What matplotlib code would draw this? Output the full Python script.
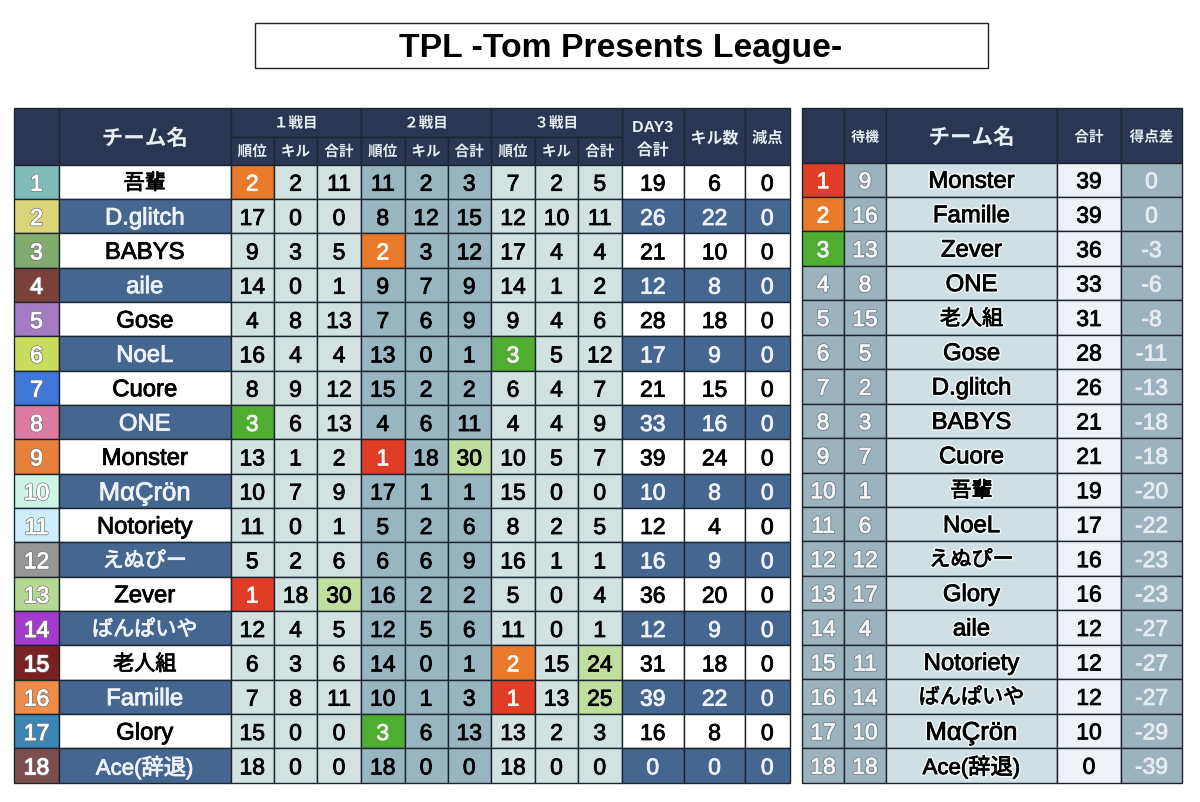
import matplotlib
matplotlib.use("Agg")
from matplotlib import pyplot as plt
from matplotlib.patches import Rectangle
import matplotlib.patheffects as pe

FONT = ["Liberation Sans", "Noto Sans CJK JP", "DejaVu Sans"]
plt.rcParams["font.family"] = FONT

# left table
teams = ["吾輩", "D.glitch", "BABYS", "aile", "Gose", "NoeL", "Cuore", "ONE", "Monster",
         "MαÇrön", "Notoriety", "えぬぴー", "Zever", "ばんぱいや", "老人組", "Famille", "Glory", "Ace(辞退)"]
team_colors = ["#7fbdb9", "#dcd479", "#82ab6e", "#7b4038", "#a67bc6", "#c9dc5c", "#3f78d8", "#dd7aa2",
               "#e6803a", "#ccf5e6", "#cdeefa", "#969696", "#b5d993", "#a63ad0", "#7b2020", "#f08c4a",
               "#3a86b4", "#7b4d4d"]
game1_rank = [2, 17, 9, 14, 4, 16, 8, 3, 13, 10, 11, 5, 1, 12, 6, 7, 15, 18]
game1_kill = [2, 0, 3, 0, 8, 4, 9, 6, 1, 7, 0, 2, 18, 4, 3, 8, 0, 0]
game1_total = [11, 0, 5, 1, 13, 4, 12, 13, 2, 9, 1, 6, 30, 5, 6, 11, 0, 0]
game2_rank = [11, 8, 2, 9, 7, 13, 15, 4, 1, 17, 5, 6, 16, 12, 14, 10, 3, 18]
game2_kill = [2, 12, 3, 7, 6, 0, 2, 6, 18, 1, 2, 6, 2, 5, 0, 1, 6, 0]
game2_total = [3, 15, 12, 9, 9, 1, 2, 11, 30, 1, 6, 9, 2, 6, 1, 3, 13, 0]
game3_rank = [7, 12, 17, 14, 9, 3, 6, 4, 10, 15, 8, 16, 5, 11, 2, 1, 13, 18]
game3_kill = [2, 10, 4, 1, 4, 5, 4, 4, 5, 0, 2, 1, 0, 0, 15, 13, 2, 0]
game3_total = [5, 11, 4, 2, 6, 12, 7, 9, 7, 0, 5, 1, 4, 1, 24, 25, 3, 0]
day3_total = [19, 26, 21, 12, 28, 17, 21, 33, 39, 10, 12, 16, 36, 12, 31, 39, 16, 0]
kill_count = [6, 22, 10, 8, 18, 9, 15, 16, 24, 8, 4, 9, 20, 9, 18, 22, 8, 0]
penalty = [0] * 18

# right table
standby = [9, 16, 13, 8, 15, 5, 2, 3, 7, 1, 6, 12, 17, 4, 11, 14, 10, 18]
rank_teams = ["Monster", "Famille", "Zever", "ONE", "老人組", "Gose", "D.glitch", "BABYS", "Cuore",
              "吾輩", "NoeL", "えぬぴー", "Glory", "aile", "Notoriety", "ばんぱいや", "MαÇrön", "Ace(辞退)"]
rank_total = [39, 39, 36, 33, 31, 28, 26, 21, 21, 19, 17, 16, 16, 12, 12, 12, 10, 0]
rank_diff = [0, 0, -3, -6, -8, -11, -13, -18, -18, -20, -22, -23, -23, -27, -27, -27, -29, -39]

NAVY = "#2a3654"
BLUE = "#44668f"
PALE = "#d2e2e1"
MID = "#97b6c0"
GREY = "#9ab3bc"
LINE = "#1c2530"
HEAD_TEXT = "#e8edf2"
PODIUM = {1: "#e03c26", 2: "#e97a2b", 3: "#4fae32"}
HIGH = "#bfdf9f"
# names that come out too wide or too narrow at the default size
NAME_SIZES = {"吾輩": 15.2, "えぬぴー": 15.2, "ばんぱいや": 15.2, "老人組": 15.2, "Ace(辞退)": 16, "MαÇrön": 18.5}

LEFT_X = [14, 59, 230.5, 274, 317, 361, 404.5, 447.5, 491, 535, 578, 621.5, 684, 745, 789.5]
RIGHT_X = [802, 844, 886, 1057, 1121, 1182]
TOP = 108
LEFT_HEAD = 164.5
RIGHT_HEAD = 162.5
SUB_HEAD = 136.5
BOTTOM = 782.5

fig = plt.figure(figsize=(12, 8.02), dpi=100)
ax = fig.add_axes([0, 0, 1, 1])
ax.set_xlim(0, 1200)
ax.set_ylim(802, 0)
ax.axis("off")


def cell(x0, x1, y0, y1, color, lw=1.0):
    ax.add_patch(Rectangle((x0, y0), x1 - x0, y1 - y0, facecolor=color, edgecolor=LINE, linewidth=lw))


def label(x, y, s, size=17.2, color="black", outline=None, glow=None, weight="normal"):
    # regular face with a thin stroke gets close to the medium weight of the original
    effects = []
    if outline:
        effects.append(pe.Stroke(linewidth=1.7, foreground=outline))
    if glow:
        effects.append(pe.Stroke(linewidth=2.8, foreground=glow))
    if weight == "normal":
        effects.append(pe.Stroke(linewidth=0.6, foreground=color))
    effects.append(pe.Normal())
    t = ax.text(x, y, str(s), fontsize=size, color=color, ha="center", va="center_baseline",
                fontweight=weight, family=FONT)
    t.set_path_effects(effects)


# title
ax.add_patch(Rectangle((254.5, 22.5), 733.5, 45, facecolor="white", edgecolor="#222222", linewidth=1))
ax.text(621, 45, "TPL -Tom Presents League-", fontsize=24.3, ha="center", va="center_baseline",
        fontweight="bold", family="Liberation Sans")

# left header
for i0, i1 in [(0, 1), (1, 2), (11, 12), (12, 13), (13, 14)]:
    cell(LEFT_X[i0], LEFT_X[i1], TOP, LEFT_HEAD, NAVY)
for g, name in enumerate(["１戦目", "２戦目", "３戦目"]):
    i = 2 + g * 3
    cell(LEFT_X[i], LEFT_X[i + 3], TOP, SUB_HEAD, NAVY)
    label((LEFT_X[i] + LEFT_X[i + 3]) / 2, 122, name, size=10.5, color=HEAD_TEXT, weight="bold")
    for j, sub in enumerate(["順位", "キル", "合計"]):
        cell(LEFT_X[i + j], LEFT_X[i + j + 1], SUB_HEAD, LEFT_HEAD, NAVY)
        label((LEFT_X[i + j] + LEFT_X[i + j + 1]) / 2, 150.5, sub, size=10.5, color=HEAD_TEXT, weight="bold")
label((LEFT_X[1] + LEFT_X[2]) / 2, 137, "チーム名", size=15.5, color=HEAD_TEXT, weight="bold")
label((LEFT_X[11] + LEFT_X[12]) / 2, 126, "DAY3", size=11.5, color=HEAD_TEXT, weight="bold")
label((LEFT_X[11] + LEFT_X[12]) / 2, 149, "合計", size=11.5, color=HEAD_TEXT, weight="bold")
label((LEFT_X[12] + LEFT_X[13]) / 2, 137, "キル数", size=11.5, color=HEAD_TEXT, weight="bold")
label((LEFT_X[13] + LEFT_X[14]) / 2, 137, "減点", size=11, color=HEAD_TEXT, weight="bold")

# left rows
game_cols = [game1_rank, game1_kill, game1_total, game2_rank, game2_kill, game2_total,
             game3_rank, game3_kill, game3_total]
row_h = (BOTTOM - LEFT_HEAD) / 18
for r in range(18):
    y0 = LEFT_HEAD + r * row_h
    y1 = y0 + row_h
    ym = (y0 + y1) / 2
    striped = r % 2 == 1
    cell(LEFT_X[0], LEFT_X[1], y0, y1, team_colors[r])
    label((LEFT_X[0] + LEFT_X[1]) / 2, ym, r + 1, size=16.5, color="white", outline="#7a7a7a")
    cell(LEFT_X[1], LEFT_X[2], y0, y1, BLUE if striped else "white")
    label((LEFT_X[1] + LEFT_X[2]) / 2, ym, teams[r], size=NAME_SIZES.get(teams[r], 17.2),
          color="#edf2f6" if striped else "black")
    for c, col in enumerate(game_cols):
        v = col[r]
        bg = MID if c in (3, 4, 5) else PALE
        fg = "black"
        if c % 3 == 0 and v in PODIUM:
            bg, fg = PODIUM[v], "#f6f6f0"
        elif c % 3 == 2 and v >= 24:
            bg = HIGH
        cell(LEFT_X[c + 2], LEFT_X[c + 3], y0, y1, bg)
        label((LEFT_X[c + 2] + LEFT_X[c + 3]) / 2, ym, v, size=16.5, color=fg)
    for c, col in enumerate([day3_total, kill_count, penalty]):
        cell(LEFT_X[c + 11], LEFT_X[c + 12], y0, y1, BLUE if striped else "white")
        label((LEFT_X[c + 11] + LEFT_X[c + 12]) / 2, ym, col[r], size=16.5, color="#edf2f6" if striped else "black")

# right header
for i in range(5):
    cell(RIGHT_X[i], RIGHT_X[i + 1], TOP, RIGHT_HEAD, NAVY)
label((RIGHT_X[1] + RIGHT_X[2]) / 2, 136, "待機", size=10, color=HEAD_TEXT, weight="bold")
label((RIGHT_X[2] + RIGHT_X[3]) / 2, 136, "チーム名", size=15.5, color=HEAD_TEXT, weight="bold")
label((RIGHT_X[3] + RIGHT_X[4]) / 2, 136, "合計", size=10.5, color=HEAD_TEXT, weight="bold")
label((RIGHT_X[4] + RIGHT_X[5]) / 2, 136, "得点差", size=10.5, color=HEAD_TEXT, weight="bold")

# right rows
row_h = (BOTTOM - RIGHT_HEAD) / 18
for r in range(18):
    y0 = RIGHT_HEAD + r * row_h
    y1 = y0 + row_h
    ym = (y0 + y1) / 2 - 0.5
    pos = r + 1
    cell(RIGHT_X[0], RIGHT_X[1], y0, y1, PODIUM.get(pos, GREY))
    label((RIGHT_X[0] + RIGHT_X[1]) / 2, ym, pos, size=16.5, color="#f4f4f4",
          outline=None if pos in PODIUM else "#6b7b82")
    cell(RIGHT_X[1], RIGHT_X[2], y0, y1, GREY)
    label((RIGHT_X[1] + RIGHT_X[2]) / 2, ym, standby[r], size=16.5, color="#f4f4f4", outline="#6b7b82")
    cell(RIGHT_X[2], RIGHT_X[3], y0, y1, "#cfdfe3")
    label((RIGHT_X[2] + RIGHT_X[3]) / 2, ym, rank_teams[r], size=NAME_SIZES.get(rank_teams[r], 17.2),
          glow="#f2f6f7")
    cell(RIGHT_X[3], RIGHT_X[4], y0, y1, "#eff2f7")
    label((RIGHT_X[3] + RIGHT_X[4]) / 2, ym, rank_total[r], size=16.5)
    cell(RIGHT_X[4], RIGHT_X[5], y0, y1, GREY)
    label((RIGHT_X[4] + RIGHT_X[5]) / 2, ym, rank_diff[r], size=16.5, color="#e4ecef")

fig.savefig("out.png", dpi=100)
